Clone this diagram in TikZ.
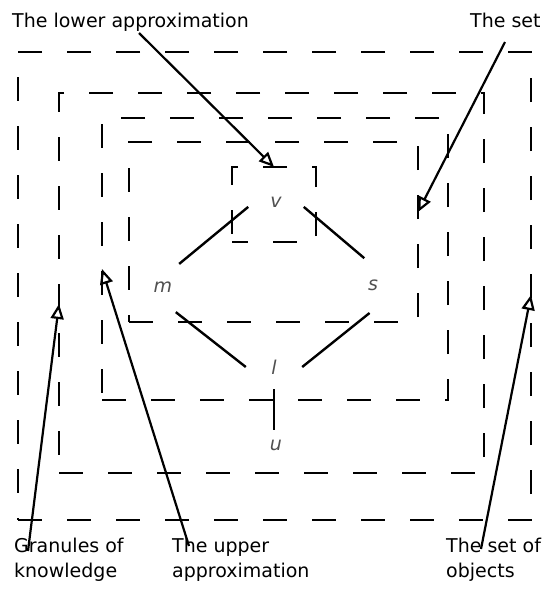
\documentclass[tikz,border=0pt]{standalone}
\usepackage{fontspec}
\setmainfont{DejaVu Sans}
\usetikzlibrary{positioning, arrows.meta}
\definecolor{elemgray}{HTML}{505050}

\tikzset{
  dashbox/.style={draw, line width=2.6pt, dash pattern=on 24pt off 25pt,
                  inner sep=0pt, outer sep=0pt},
  elem/.style={circle, minimum size=56pt, inner sep=0pt, text=elemgray,
               font=\fontsize{19}{25}\selectfont\itshape},
  link/.style={line width=2.4pt},
  pointer/.style={line width=2.2pt, -{Triangle[open, length=15pt, width=13pt]}},
  caption/.style={inner sep=0pt, align=left},
}

\begin{document}
\begin{tikzpicture}[x=1pt, y=-1pt, font=\fontsize{19}{25}\selectfont]
  \useasboundingbox (0,0) rectangle (542,603);

  % nested boxes
  \node[dashbox, minimum width=513pt, minimum height=468pt] (objects)  at (274.5,286) {};
  \node[dashbox, minimum width=425pt, minimum height=380pt] (granules) at (271.5,283) {};
  \node[dashbox, minimum width=346pt, minimum height=282pt] (upper)    at (275,259) {};
  \node[dashbox, minimum width=289pt, minimum height=180pt] (theset)   at (273.5,232) {};
  \node[dashbox, minimum width=84pt,  minimum height=75pt, dash phase=8pt] (lower) at (274,204.5) {};

  % elements
  \node[elem] (v) at (276,202) {v};
  \node[elem] (m) at (163,287) {m};
  \node[elem] (s) at (373,285) {s};
  \node[elem] (l) at (274,367) {l};
  \node[elem] (u) at (276,445) {u};
  \draw[link] (v.190) -- (m.55);
  \draw[link] (v.350) -- (s.108);
  \draw[link] (m.297) -- (l.180);
  \draw[link] (s.263) -- (l.0);
  \draw[link, shorten <=-6pt, shorten >=-13pt] (l.270) -- (l.270 |- u.90);

  % captions
  \node[caption, anchor=base west] (lowcap) at (12,27) {The lower approximation};
  \node[caption, anchor=base west] (setcap) at (470,27) {The set};
  \node[caption, anchor=base west] (grancap) at (14,577) {Granules of\\knowledge};
  \node[caption, anchor=base west] (uppcap) at (172,577) {The upper\\approximation};
  \node[caption, anchor=base west] (objcap) at (446,577) {The set of\\objects};

  \coordinate (lowtail)  at (139,33);
  \coordinate (settail)  at (505,42);
  \coordinate (grantail) at (28,551);
  \coordinate (upptail)  at (189,546);
  \coordinate (objtail)  at (481,549);

  \draw[pointer] (lowtail)  -- (lower.north);
  \draw[pointer] (settail)  -- ([yshift=20pt]theset.east);
  \draw[pointer] (grantail) -- ([yshift=-21pt]granules.west);
  \draw[pointer] (upptail)  -- ([yshift=-10pt]upper.west);
  \draw[pointer] (objtail)  -- ([yshift=-9pt]objects.east);
\end{tikzpicture}
\end{document}
